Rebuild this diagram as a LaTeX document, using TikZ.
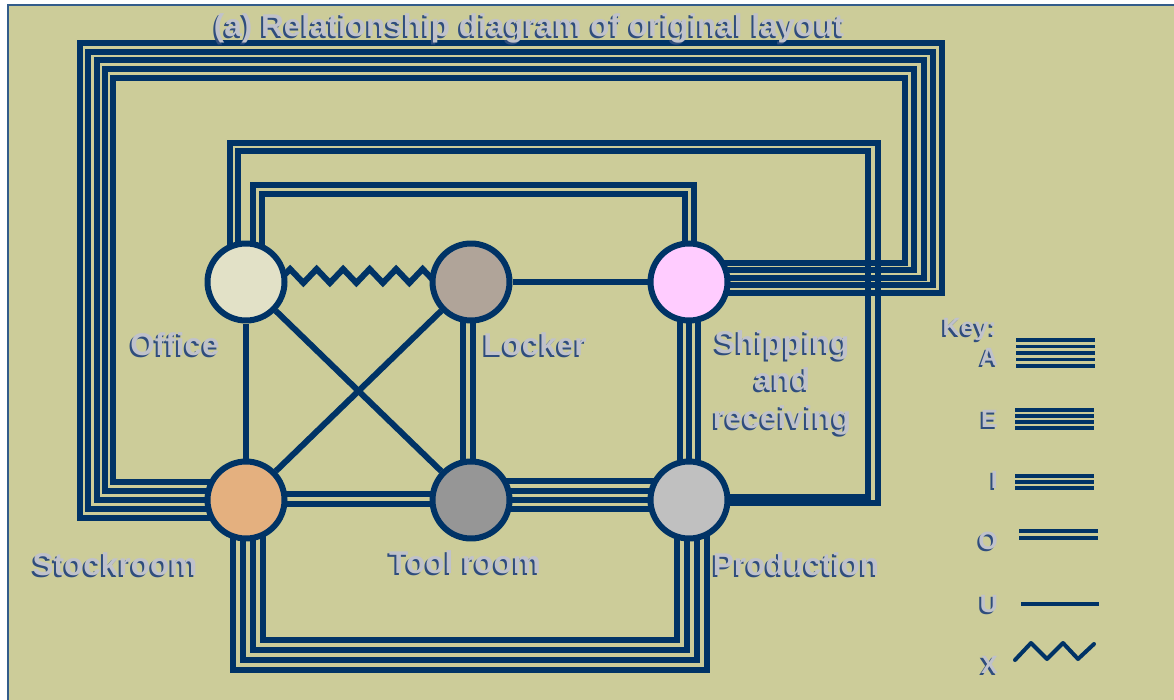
\documentclass[tikz,border=0pt]{standalone}
\usepackage{fontspec}
\setmainfont{Liberation Sans}
\usetikzlibrary{decorations.pathmorphing}

\definecolor{paper}{HTML}{CCCC99}
\definecolor{navy}{HTML}{003366}
\definecolor{lblgray}{HTML}{C0C2CB}
\definecolor{lblshadow}{HTML}{2F4D7D}
\definecolor{framecol}{HTML}{335C8A}
\definecolor{officefill}{HTML}{E2E1C7}
\definecolor{lockerfill}{HTML}{B0A499}
\definecolor{shipfill}{HTML}{FFCCFF}
\definecolor{stockfill}{HTML}{E4B07F}
\definecolor{toolfill}{HTML}{969696}
\definecolor{prodfill}{HTML}{C0C0C0}

\newcommand{\shtxt}[1]{\makebox[0pt][l]{\hspace{-2pt}\raisebox{-2pt}{\textcolor{lblshadow}{#1}}}#1}

\pgfdeclarelayer{paper}
\pgfdeclarelayer{links}
\pgfsetlayers{paper,links,main}

\tikzset{
  dept/.style={circle, draw=navy, line width=6pt, minimum size=77pt, inner sep=0pt},
  link/.style={draw=navy, line width=6pt},
  keyline/.style={draw=navy, line width=3.8pt, line cap=butt},
  lbl/.style={text=lblgray, anchor=base, inner sep=0pt, font=\bfseries\fontsize{31.5}{37.5}\selectfont},
  keylbl/.style={text=lblgray, anchor=base east, inner sep=0pt, font=\bfseries\fontsize{25}{30}\selectfont}
}

\begin{document}
\begin{tikzpicture}[line cap=round, line join=round, x=1pt, y=-1pt]
  \useasboundingbox (0,0) rectangle (1174,700);
  \begin{pgfonlayer}{paper}
    \fill[white] (0,0) rectangle (1174,700);
    \draw[framecol, line width=1.2pt, fill=paper] (8,5) rectangle (1190,720);
  \end{pgfonlayer}

  % departments
  \node[dept, fill=officefill] (office) at (246,282) {};
  \node[dept, fill=lockerfill] (locker) at (471,282) {};
  \node[dept, fill=shipfill] (ship) at (689,282) {};
  \node[dept, fill=stockfill] (stock) at (246,500) {};
  \node[dept, fill=toolfill] (tool) at (471,500) {};
  \node[dept, fill=prodfill] (prod) at (689,500) {};

  \node[lbl] (title) at (529,37) {\shtxt{(a) Relationship diagram of original layout}};
  \node[lbl] (officelbl) at (175,355) {\shtxt{Office}};
  \node[lbl] (lockerlbl) at (535,355) {\shtxt{Locker}};
  \node[lbl, align=center] (shiplbl) at (782,428) {\shtxt{Shipping}\\\shtxt{and}\\\shtxt{receiving}};
  \node[lbl] (stocklbl) at (115,575) {\shtxt{Stockroom}};
  \node[lbl] (toollbl) at (465,573) {\shtxt{Tool room}};
  \node[lbl] (prodlbl) at (796,575) {\shtxt{Production}};

  \begin{pgfonlayer}{links}
    % A
    \foreach \i in {0,...,4}
      \draw[link] ([shift={(0,{18-9*\i})}]stock.center) -| ({80+8.25*\i},{43+8.75*\i})
        -| ({942-9.25*\i},{293-7.5*\i}) -- ([shift={(0,{11-7.5*\i})}]ship.center);
    % E
    \foreach \i in {0,...,3}
      \draw[link] ([shift={({-13+10*\i},0)}]stock.center) |- ({707-10*\i},{670-10*\i})
        -- ([shift={({18-10*\i},0)}]prod.center);
    \foreach \d in {-19,-9.5,0,9}
      \draw[link] ([shift={(0,\d)}]tool.center) -- ([shift={(0,\d)}]prod.center);
    % I
    \foreach \d in {-9,0,9}
      \draw[link] ([shift={(\d,0)}]ship.center) -- ([shift={(\d,0)}]prod.center);
    % O
    \foreach \i in {0,1}
      \draw[link] ([shift={({7+9*\i},0)}]office.center) |- ({694-9*\i},{185+9*\i})
        -- ([shift={({5-9*\i},0)}]ship.center);
    \foreach \i in {0,1}
      \draw[link] ([shift={({-16+8*\i},0)}]office.center) |- ({878-10*\i},{143+8*\i})
        |- ([shift={(0,{3-6*\i})}]prod.center);
    \foreach \d in {-8,2}
      \draw[link] ([shift={(\d,0)}]locker.center) -- ([shift={(\d,0)}]tool.center);
    \foreach \d in {-6,4}
      \draw[link] ([shift={(0,\d)}]stock.center) -- ([shift={(0,\d)}]tool.center);
    % U
    \draw[link] (office) -- (stock);
    \draw[link] (office) -- (tool);
    \draw[link] (locker) -- (stock);
    \draw[link] (locker) -- (ship);
    % X
    \draw[link, decorate, decoration={zigzag, segment length=26.5pt, amplitude=7pt}]
      ([shift={(11,-6)}]office.center) -- ([shift={(0,-6)}]locker.center);
  \end{pgfonlayer}

  % key
  \node[keylbl] (keyhead) at (997,335) {\shtxt{Key:}};
  \node[keylbl] (keyA) at (998,365) {\shtxt{A}};
  \node[keylbl] (keyE) at (998,427) {\shtxt{E}};
  \node[keylbl] (keyI) at (998,488) {\shtxt{I}};
  \node[keylbl] (keyO) at (998,549) {\shtxt{O}};
  \node[keylbl] (keyU) at (998,612) {\shtxt{U}};
  \node[keylbl] (keyX) at (998,673) {\shtxt{X}};
  \foreach \y in {340,346.5,353,359.5,366}
    \draw[keyline] (1016,\y) -- (1095,\y);
  \foreach \y in {410,416,422,428}
    \draw[keyline] (1015,\y) -- (1094,\y);
  \foreach \y in {476,482,488}
    \draw[keyline] (1015,\y) -- (1094,\y);
  \foreach \y in {531,538}
    \draw[keyline] (1019,\y) -- (1098,\y);
  \draw[keyline] (1021,604) -- (1099,604);
  \draw[navy, line width=4pt] (1015,660) -- (1031,643) -- (1047,659) -- (1063,643)
    -- (1078,659) -- (1094,644);
\end{tikzpicture}
\end{document}
